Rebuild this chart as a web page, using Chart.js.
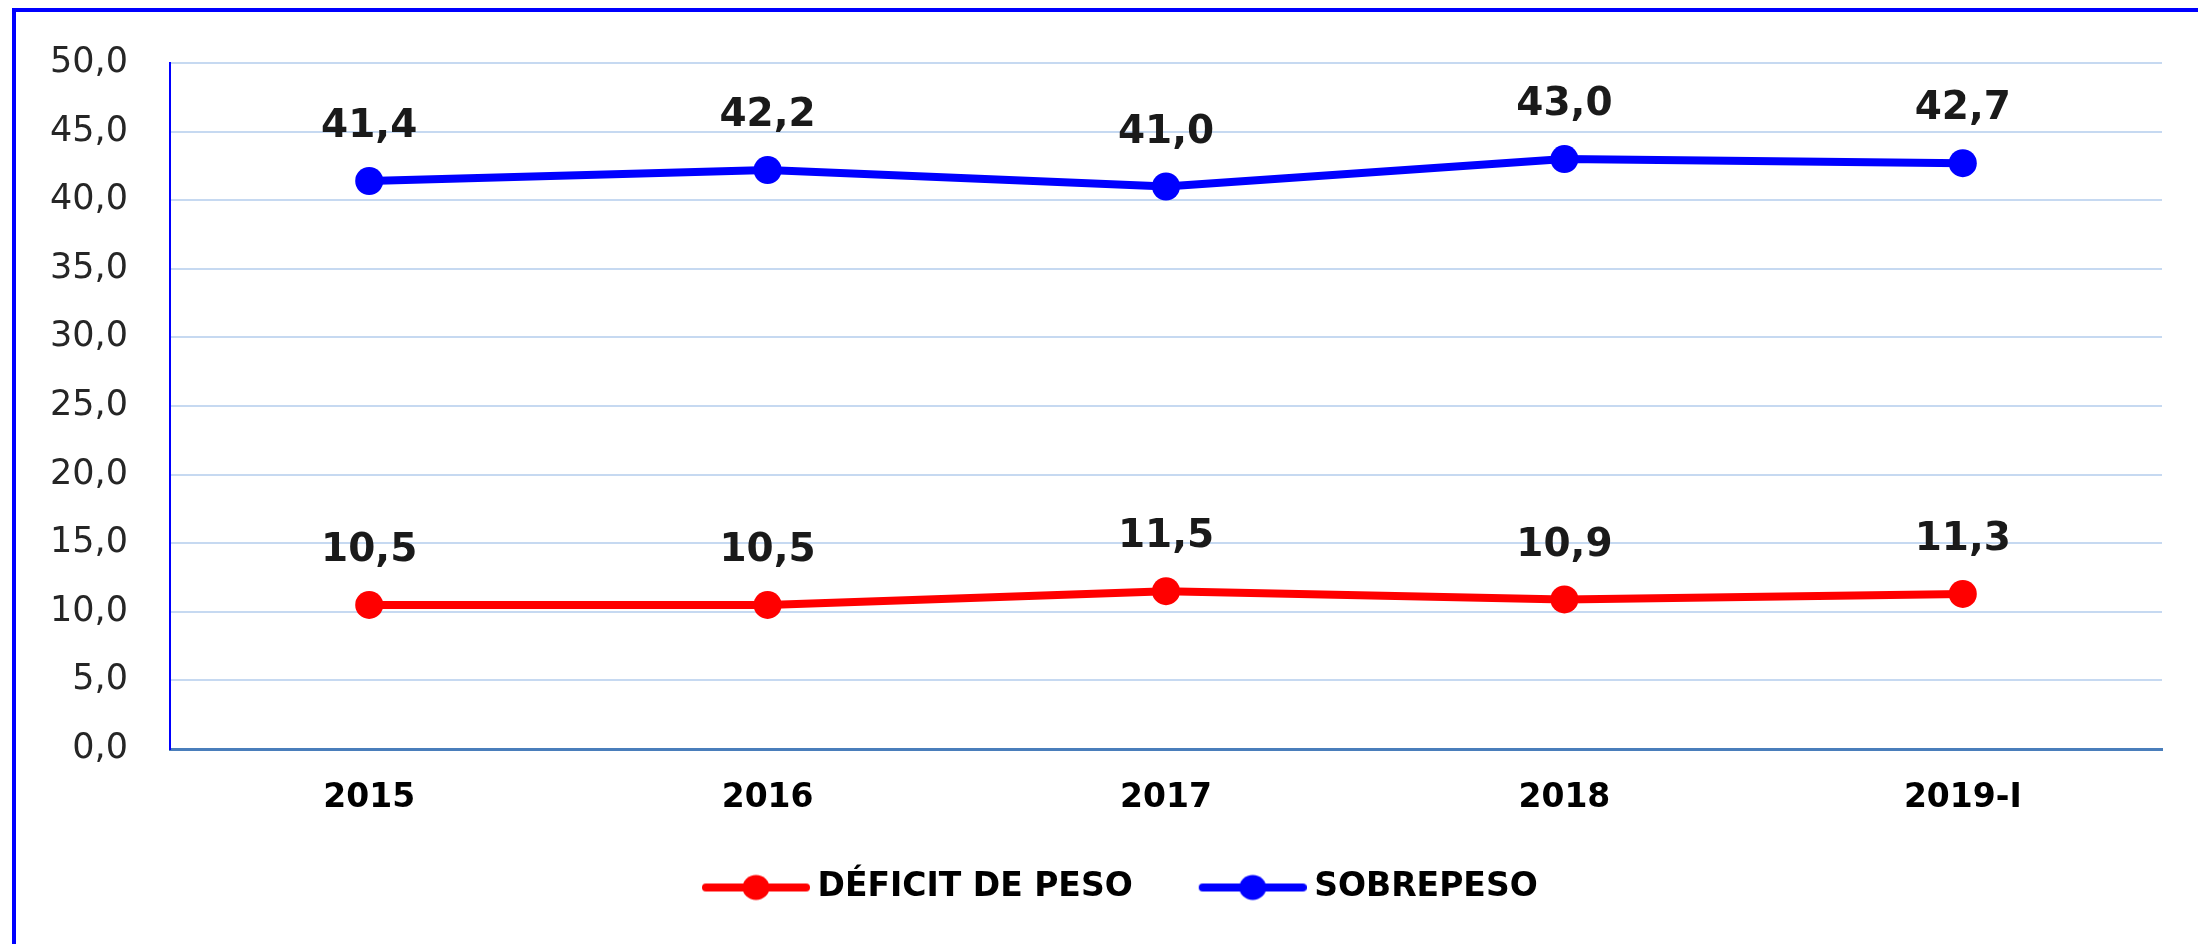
<!DOCTYPE html>
<html>
<head>
<meta charset="utf-8">
<script src="https://cdn.jsdelivr.net/npm/chart.js@4.4.1/dist/chart.umd.min.js"></script>
<style>
  html, body { margin: 0; padding: 0; background: #ffffff; overflow: hidden; }
  #wrap { position: relative; width: 2198px; height: 944px; }
  #frame { position: absolute; left: 12px; top: 8px; width: 3000px; height: 3000px;
           border: 4px solid #0000ff; box-sizing: border-box; pointer-events: none; }
  canvas { position: absolute; left: 0; top: 0; }
</style>
</head>
<body>
<div id="wrap">
  <canvas id="c" width="2198" height="944"></canvas>
  <div id="frame"></div>
</div>
<script>
// ---- data ----
const categories = ['2015', '2016', '2017', '2018', '2019-I'];
const deficitPeso = [10.5, 10.5, 11.5, 10.9, 11.3];
const sobrepeso = [41.4, 42.2, 41.0, 43.0, 42.7];
const seriesNames = ['DÉFICIT DE PESO', 'SOBREPESO'];
const yMin = 0;
const yMax = 50;
const yStep = 5;

const fmt = v => Number(v).toFixed(1).replace('.', ',');

function makeGlyph(color) {
  const c = document.createElement('canvas');
  c.width = 173; c.height = 32;
  const g = c.getContext('2d');
  g.strokeStyle = color; g.lineWidth = 8; g.lineCap = 'round';
  g.beginPath(); g.moveTo(69, 16); g.lineTo(169, 16); g.stroke();
  g.fillStyle = color;
  g.beginPath(); g.ellipse(119, 16, 13.5, 12.5, 0, 0, Math.PI * 2); g.fill();
  return c;
}
const glyphs = [makeGlyph('#ff0000'), makeGlyph('#0000ff')];

const dataLabels = {
  id: 'dataLabels',
  afterDatasetsDraw(chart) {
    const ctx = chart.ctx;
    ctx.save();
    ctx.font = 'bold 39px "DejaVu Sans", Verdana, sans-serif';
    ctx.fillStyle = '#1a1a1a';
    ctx.textAlign = 'center';
    ctx.textBaseline = 'middle';
    chart.data.datasets.forEach((ds, i) => {
      const meta = chart.getDatasetMeta(i);
      meta.data.forEach((pt, j) => {
        ctx.fillText(fmt(ds.data[j]), pt.x, pt.y - 54);
      });
    });
    ctx.restore();
  }
};

const legendShift = {
  id: 'legendShift',
  afterLayout(chart) {
    const l = chart.legend;
    if (l) { l.left = 636; }
  }
};

new Chart(document.getElementById('c'), {
  type: 'line',
  data: {
    labels: categories,
    datasets: [
      {
        label: seriesNames[0], data: deficitPeso,
        borderColor: '#ff0000', backgroundColor: '#ff0000',
        borderWidth: 8, pointRadius: 14, pointHoverRadius: 14,
        pointBorderWidth: 0, tension: 0
      },
      {
        label: seriesNames[1], data: sobrepeso,
        borderColor: '#0000ff', backgroundColor: '#0000ff',
        borderWidth: 8, pointRadius: 14, pointHoverRadius: 14,
        pointBorderWidth: 0, tension: 0
      }
    ]
  },
  options: {
    responsive: false,
    animation: false,
    devicePixelRatio: 1,
    layout: { padding: { top: 59, right: 36, left: 0, bottom: 30 } },
    plugins: {
      tooltip: { enabled: false },
      legend: {
        position: 'bottom',
        align: 'start',
        labels: {
          usePointStyle: true,
          pointStyleWidth: 155,
          boxHeight: 33,
          padding: 10,
          color: '#000000',
          font: { family: '"DejaVu Sans", Verdana, sans-serif', size: 33, weight: 'bold' },
          generateLabels(chart) {
            const items = Chart.defaults.plugins.legend.labels.generateLabels(chart);
            items.forEach((it, i) => { it.pointStyle = glyphs[i]; });
            return items;
          }
        }
      }
    },
    scales: {
      x: {
        offset: true,
        grid: { display: false, drawTicks: false },
        border: { color: '#4a7ebb', width: 3 },
        ticks: {
          padding: 30,
          color: '#000000',
          font: { family: '"DejaVu Sans", Verdana, sans-serif', size: 33, weight: 'bold' }
        },
        afterFit(scale) { scale.height = 112; }
      },
      y: {
        min: yMin, max: yMax,
        grid: { color: '#c6d9f1', lineWidth: 2, drawTicks: false },
        border: { color: '#0000ff', width: 2 },
        ticks: {
          stepSize: yStep,
          padding: 42,
          color: '#262626',
          font: { family: '"DejaVu Sans", Verdana, sans-serif', size: 35 },
          callback: v => fmt(v)
        },
        afterFit(scale) { scale.width = 170; }
      }
    }
  },
  plugins: [dataLabels, legendShift]
});
</script>
</body>
</html>
